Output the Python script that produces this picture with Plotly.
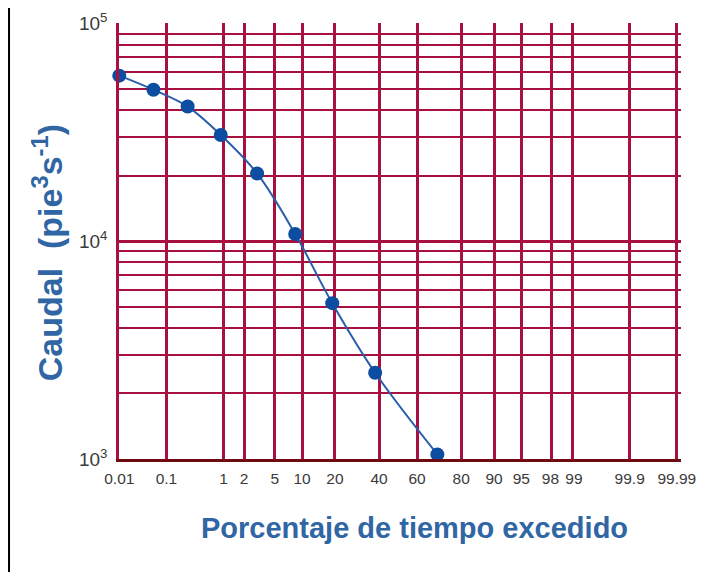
import plotly.graph_objects as go
from statistics import NormalDist

# ---- data ----
pct_exceeded = [0.01, 0.055, 0.25, 0.9, 3, 8.5, 19, 38, 70]
flow = [57700, 49700, 41600, 30800, 20500, 10800, 5200, 2490, 1050]

x_tick_pct = [0.01, 0.1, 1, 2, 5, 10, 20, 40, 60, 80, 90, 95, 98, 99, 99.9, 99.99]
x_tick_text = ["0.01", "0.1", "1", "2", "5", "10", "20", "40", "60", "80",
               "90", "95", "98\u2009", "\u200999", "99.9", "99.99"]
y_major = [1e3, 1e4, 1e5]
y_major_text = ["10<sup>3</sup>", "10<sup>4</sup>", "10<sup>5</sup>"]
y_minor = [m * 10 ** k for k in (3, 4) for m in range(2, 10)]

nd = NormalDist()
def probit(p):
    return nd.inv_cdf(p / 100.0)

GRID = "#A8103F"
BLUE = "#0C4DA2"
TITLE = "#2F66A3"
FONT = "Liberation Sans, Arial, sans-serif"

fig = go.Figure()
fig.add_trace(go.Scatter(
    x=[probit(p) for p in pct_exceeded], y=flow,
    mode="lines+markers",
    line=dict(color="#2A5DAA", width=2, shape="spline", smoothing=1.0),
    marker=dict(color=BLUE, size=14),
    showlegend=False, cliponaxis=False,
))

fig.update_layout(
    width=709, height=564,
    margin=dict(l=111, r=36, t=15, b=113),
    paper_bgcolor="white", plot_bgcolor="white",
    xaxis=dict(
        range=[probit(0.01) - 0.004, 3.775],
        tickvals=[probit(p) for p in x_tick_pct], ticktext=x_tick_text,
        tickangle=0, automargin=False,
        showgrid=True, gridcolor=GRID, gridwidth=2.5,
        zeroline=False, showline=True, linecolor="#6E0A12", linewidth=3,
        ticks="", ticklabelstandoff=3,
        tickfont=dict(family=FONT, size=15.5, color="#3a3a3a"),
    ),
    yaxis=dict(
        type="log", range=[3, 5.003], automargin=False,
        tickvals=y_major, ticktext=y_major_text,
        showgrid=True, gridcolor=GRID, gridwidth=3,
        zeroline=False, showline=True, linecolor=GRID, linewidth=2.5,
        ticks="", ticklabelstandoff=5,
        tickfont=dict(family=FONT, size=19, color="#3a3a3a"),
        minor=dict(tickvals=y_minor, showgrid=True, gridcolor=GRID, gridwidth=1.6, ticks=""),
    ),
    annotations=[
        dict(text="<b>Caudal  (pie<sup>3</sup>s<sup>-1</sup>)</b>", xref="paper", yref="paper",
             x=-0.128, y=0.472, xanchor="center", yanchor="middle",
             textangle=-90, showarrow=False,
             font=dict(family=FONT, size=34, color=TITLE)),
        dict(text="<b>Porcentaje de tiempo excedido</b>", xref="paper", yref="paper",
             x=0.525, y=-0.158, xanchor="center", yanchor="middle", showarrow=False,
             font=dict(family=FONT, size=29, color=TITLE)),
    ],
    shapes=[
        dict(type="line", xref="paper", yref="paper",
             x0=-0.1957, x1=-0.1957, y0=-0.27, y1=1.06,
             line=dict(color="black", width=2)),
    ],
)

fig.write_html("out.html")
